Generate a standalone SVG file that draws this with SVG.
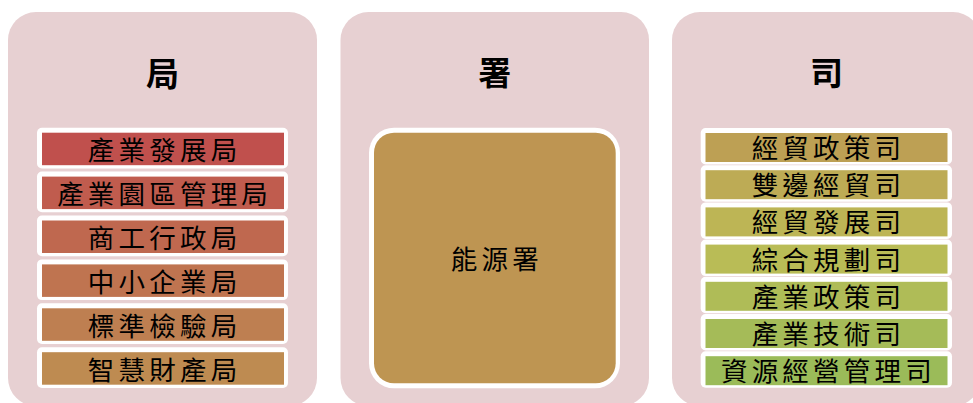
<svg xmlns="http://www.w3.org/2000/svg" width="973" height="403" viewBox="0 0 973 403">
<style>
.panel{fill:#E7D0D2;}
.frame{fill:#FFFFFF;}
.title{font-family:"Noto Sans CJK TC","Noto Sans CJK SC",sans-serif;font-size:33px;font-weight:700;fill:#000;text-anchor:middle;dominant-baseline:central;}
.lbl{font-family:"Noto Sans CJK TC","Noto Sans CJK SC",sans-serif;font-size:26.5px;fill:#000;text-anchor:middle;dominant-baseline:central;letter-spacing:4.2px;}
</style>
<rect width="973" height="403" fill="#FFFFFF"/>

<g id="panel-ju">
<rect class="panel" x="8" y="12" width="309" height="394" rx="28"/>
<text class="title" x="162.5" y="71.5">局</text>
<g id="ju-1"><rect class="frame" x="37" y="127.7" width="251" height="40.7" rx="5"/><rect x="42" y="132.7" width="242" height="32.5" fill="hsl(1.6,47.7%,52.7%)"/><text class="lbl" x="164.6" y="148.5">產業發展局</text></g>
<g id="ju-2"><rect class="frame" x="37" y="171.6" width="251" height="40.7" rx="5"/><rect x="42" y="176.6" width="242" height="32.5" fill="hsl(7.6,47.3%,52.8%)"/><text class="lbl" x="164.6" y="192.4">產業園區管理局</text></g>
<g id="ju-3"><rect class="frame" x="37" y="215.5" width="251" height="40.7" rx="5"/><rect x="42" y="220.5" width="242" height="32.5" fill="hsl(13.6,46.8%,52.9%)"/><text class="lbl" x="164.6" y="236.3">商工行政局</text></g>
<g id="ju-4"><rect class="frame" x="37" y="259.4" width="251" height="40.7" rx="5"/><rect x="42" y="264.4" width="242" height="32.5" fill="hsl(19.6,46.4%,53%)"/><text class="lbl" x="164.6" y="280.2">中小企業局</text></g>
<g id="ju-5"><rect class="frame" x="37" y="303.3" width="251" height="40.7" rx="5"/><rect x="42" y="308.3" width="242" height="32.5" fill="hsl(25.6,45.9%,53.1%)"/><text class="lbl" x="164.6" y="324.1">標準檢驗局</text></g>
<g id="ju-6"><rect class="frame" x="37" y="347.2" width="251" height="40.7" rx="5"/><rect x="42" y="352.2" width="242" height="32.5" fill="hsl(31.6,45.5%,53.2%)"/><text class="lbl" x="164.6" y="368">智慧財產局</text></g>
</g>

<g id="panel-shu">
<rect class="panel" x="340.5" y="12" width="308.5" height="394" rx="28"/>
<text class="title" x="494.7" y="70.5">署</text>
<g id="shu-1"><rect class="frame" x="369" y="127.7" width="251" height="260.6" rx="25"/><rect x="374" y="132.7" width="241.7" height="250.6" rx="20" fill="hsl(37.6,45%,53.3%)"/><text class="lbl" x="496.8" y="257">能源署</text></g>
</g>

<g id="panel-si">
<rect class="panel" x="672" y="12" width="309" height="394" rx="28"/>
<text class="title" x="826.5" y="70.5">司</text>
<g id="si-1"><rect class="frame" x="700.7" y="128" width="251.3" height="36.5" rx="5"/><rect x="705.5" y="133" width="242" height="29" fill="hsl(43.6,44.6%,53.5%)"/><text class="lbl" x="828.4" y="146.5">經貿政策司</text></g>
<g id="si-2"><rect class="frame" x="700.7" y="165.2" width="251.3" height="36.5" rx="5"/><rect x="705.5" y="170.2" width="242" height="29" fill="hsl(49.6,44.1%,53.6%)"/><text class="lbl" x="828.4" y="183.7">雙邊經貿司</text></g>
<g id="si-3"><rect class="frame" x="700.7" y="202.4" width="251.3" height="36.5" rx="5"/><rect x="705.5" y="207.4" width="242" height="29" fill="hsl(55.6,43.7%,53.7%)"/><text class="lbl" x="828.4" y="220.9">經貿發展司</text></g>
<g id="si-4"><rect class="frame" x="700.7" y="239.6" width="251.3" height="36.5" rx="5"/><rect x="705.5" y="244.6" width="242" height="29" fill="hsl(61.6,43.2%,53.8%)"/><text class="lbl" x="828.4" y="258.1">綜合規劃司</text></g>
<g id="si-5"><rect class="frame" x="700.7" y="276.8" width="251.3" height="36.5" rx="5"/><rect x="705.5" y="281.8" width="242" height="29" fill="hsl(67.6,42.8%,53.9%)"/><text class="lbl" x="828.4" y="295.3">產業政策司</text></g>
<g id="si-6"><rect class="frame" x="700.7" y="314" width="251.3" height="36.5" rx="5"/><rect x="705.5" y="319" width="242" height="29" fill="hsl(73.6,42.3%,54%)"/><text class="lbl" x="828.4" y="332.5">產業技術司</text></g>
<g id="si-7"><rect class="frame" x="700.7" y="351.2" width="251.3" height="36.5" rx="5"/><rect x="705.5" y="356.2" width="242" height="29" fill="hsl(79.6,41.9%,54.1%)"/><text class="lbl" x="828.4" y="369.7">資源經營管理司</text></g>
</g>
</svg>
